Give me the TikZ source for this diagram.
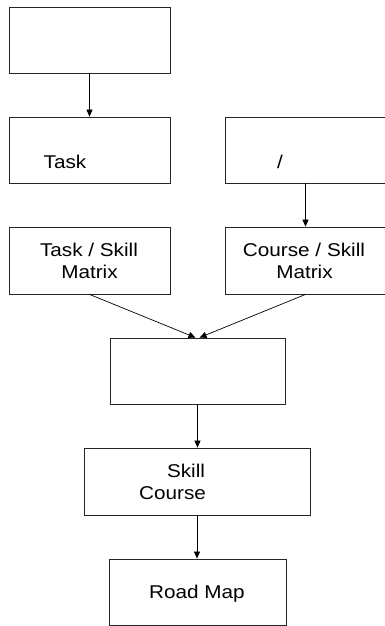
\documentclass[tikz,border=0pt]{standalone}
\usepackage{fontspec}
\setmainfont{Liberation Sans}[FakeStretch=1.12]
\usetikzlibrary{arrows.meta,calc}
\begin{document}
\begin{tikzpicture}[x=1pt,y=-1pt,
  box/.style={draw=black!85,line width=0.8pt,rectangle,inner sep=0pt,minimum height=66pt},
  lbl/.style={anchor=base,inner sep=0pt,font=\fontsize{18.5}{22}\selectfont},
  flow/.style={draw=black,line width=0.7pt,-{Triangle[length=7pt,width=6pt]}}]
\useasboundingbox (0,0) rectangle (385,626);
% boxes
\node[box,minimum width=161pt] (plan) at (89.5,40) {};
\node[box,minimum width=161pt] (task) at (89.5,150) {};
\node[box,minimum width=161pt] (course) at (305.5,150) {};
\node[box,minimum width=161pt,minimum height=67pt] (tsm) at (89.5,260.5) {};
\node[box,minimum width=161pt,minimum height=67pt] (csm) at (305.5,260.5) {};
\node[box,minimum width=175pt] (gap) at (197.5,371) {};
\node[box,minimum width=226pt,minimum height=67pt] (skill) at (197,481.5) {};
\node[box,minimum width=177pt] (road) at (197.5,592) {};
% labels
\node[lbl] (tasklbl) at (65,168) {Task};
\node[lbl] (slash) at (280,168) {/};
\node[lbl] (tsm1) at (89,256) {Task / Skill};
\node[lbl] (tsm2) at (89.5,278) {Matrix};
\node[lbl] (csm1) at (304,256) {Course / Skill};
\node[lbl] (csm2) at (304.5,278) {Matrix};
\node[lbl] (sk1) at (186,477) {Skill};
\node[lbl] (sk2) at (172.5,499) {Course};
\node[lbl] (rm) at (197,598) {Road Map};
% connectors
\draw[flow] (plan.south) -- (task.north);
\draw[flow] (course.south) -- (csm.north);
\draw[flow] (tsm.south) -- ($(gap.north)+(-2,0)$);
\draw[flow] (csm.south) -- ($(gap.north)+(2,0)$);
\draw[flow] (gap.south) -- (gap.south |- skill.north);
\draw[flow] (skill.south) -- (skill.south |- road.north);
\end{tikzpicture}
\end{document}
